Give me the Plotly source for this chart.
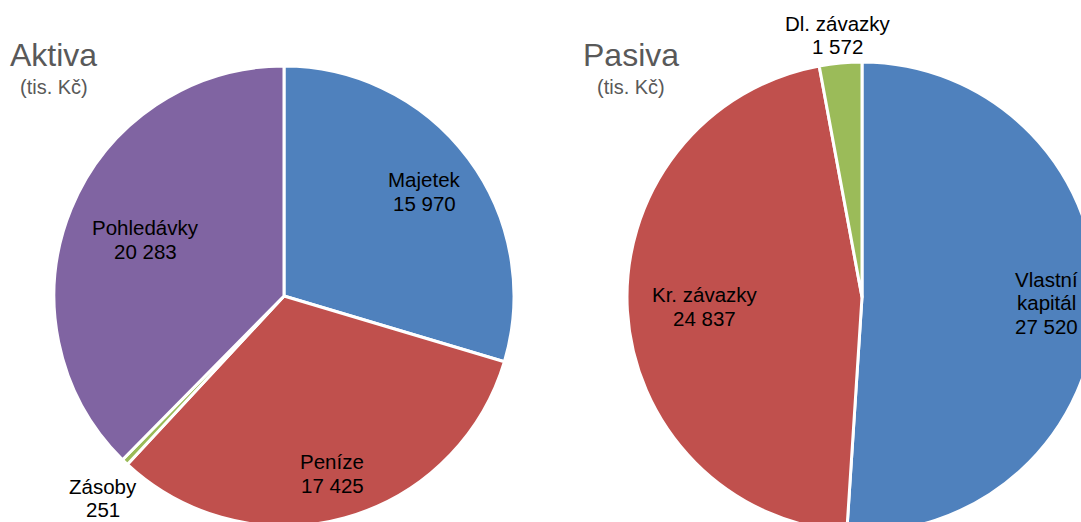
import math
import plotly.graph_objects as go

# ---- data ----
aktiva_labels = ["Majetek", "Peníze", "Zásoby", "Pohledávky"]
aktiva_values = [15970, 17425, 251, 20283]
aktiva_colors = ["#4F81BD", "#C0504D", "#9BBB59", "#8064A2"]

pasiva_labels = ["Vlastní kapitál", "Kr. závazky", "Dl. závazky"]
pasiva_values = [27520, 24837, 1572]
pasiva_colors = ["#4F81BD", "#C0504D", "#9BBB59"]

# display lines of labels (line breaks as in the original)
aktiva_text = [["Majetek"], ["Peníze"], ["Zásoby"], ["Pohledávky"]]
pasiva_text = [["Vlastní", "kapitál"], ["Kr. závazky"], ["Dl. závazky"]]

# label placement (style): radial factor and angular tweak in degrees
aktiva_lab_f = [0.76, 0.80, 1.18, 0.65]
aktiva_lab_da = [0, 0, -1.8, 0]
pasiva_lab_f = [0.785, 0.67, 1.12]
pasiva_lab_da = [0, 0, 0]

# ---- layout geometry (figure larger than the window, clipped to 1081x522) ----
W, H = 1100, 540
FONT = "Liberation Sans, Arial, sans-serif"
LAB_SIZE = 20.5
LINE_H = 23.5

pies = [
    dict(labels=aktiva_labels, values=aktiva_values, colors=aktiva_colors,
         text=aktiva_text, f=aktiva_lab_f, da=aktiva_lab_da, cx=284, cy=296, r=230),
    dict(labels=pasiva_labels, values=pasiva_values, colors=pasiva_colors,
         text=pasiva_text, f=pasiva_lab_f, da=pasiva_lab_da, cx=862, cy=297, r=235),
]


def fmt(v):
    return f"{v:,}".replace(",", " ")


fig = go.Figure()
annotations = []
for p in pies:
    cx, cy, r = p["cx"], p["cy"], p["r"]
    fig.add_trace(go.Pie(
        labels=p["labels"], values=p["values"], sort=False,
        direction="clockwise", rotation=0,
        marker=dict(colors=p["colors"], line=dict(color="white", width=3)),
        textinfo="none", hoverinfo="label+value",
        domain=dict(x=[(cx - r) / W, (cx + r) / W],
                    y=[1 - (cy + r) / H, 1 - (cy - r) / H]),
        showlegend=False,
    ))
    total = sum(p["values"])
    cum = 0
    for lines, v, f, da in zip(p["text"], p["values"], p["f"], p["da"]):
        theta = math.radians((cum + v / 2) / total * 360 + da)
        cum += v
        px = cx + f * r * math.sin(theta)
        py = cy - f * r * math.cos(theta)
        all_lines = lines + [fmt(v)]
        n = len(all_lines)
        for i, line in enumerate(all_lines):
            ly = py + (i - (n - 1) / 2) * LINE_H
            annotations.append(dict(
                x=px / W, y=1 - ly / H, xref="paper", yref="paper",
                text=line, showarrow=False,
                xanchor="center", yanchor="middle", align="center",
                font=dict(family=FONT, size=LAB_SIZE, color="#000000"),
            ))

# titles
for title, cx_t in [("Aktiva", 53.5), ("Pasiva", 630.5)]:
    annotations.append(dict(
        x=cx_t / W, y=1 - 54.5 / H, xref="paper", yref="paper",
        text=title, showarrow=False, xanchor="center", yanchor="middle",
        font=dict(family=FONT, size=32, color="#595959"),
    ))
    annotations.append(dict(
        x=cx_t / W, y=1 - 87 / H, xref="paper", yref="paper",
        text="(tis. Kč)", showarrow=False, xanchor="center", yanchor="middle",
        font=dict(family=FONT, size=20, color="#595959"),
    ))

fig.update_layout(
    width=W, height=H,
    margin=dict(l=0, r=0, t=0, b=0),
    paper_bgcolor="white", plot_bgcolor="white",
    annotations=annotations,
    font=dict(family=FONT),
)

post = (
    "var d=document.getElementById('{plot_id}');"
    "document.body.style.margin='0';"
    "document.body.style.overflow='hidden';"
    "document.documentElement.style.overflow='hidden';"
    "var p=d.parentElement;p.style.width='1081px';p.style.height='522px';"
    "p.style.overflow='hidden';"
)

fig.write_html("out.html", config={"displayModeBar": False}, post_script=post)
